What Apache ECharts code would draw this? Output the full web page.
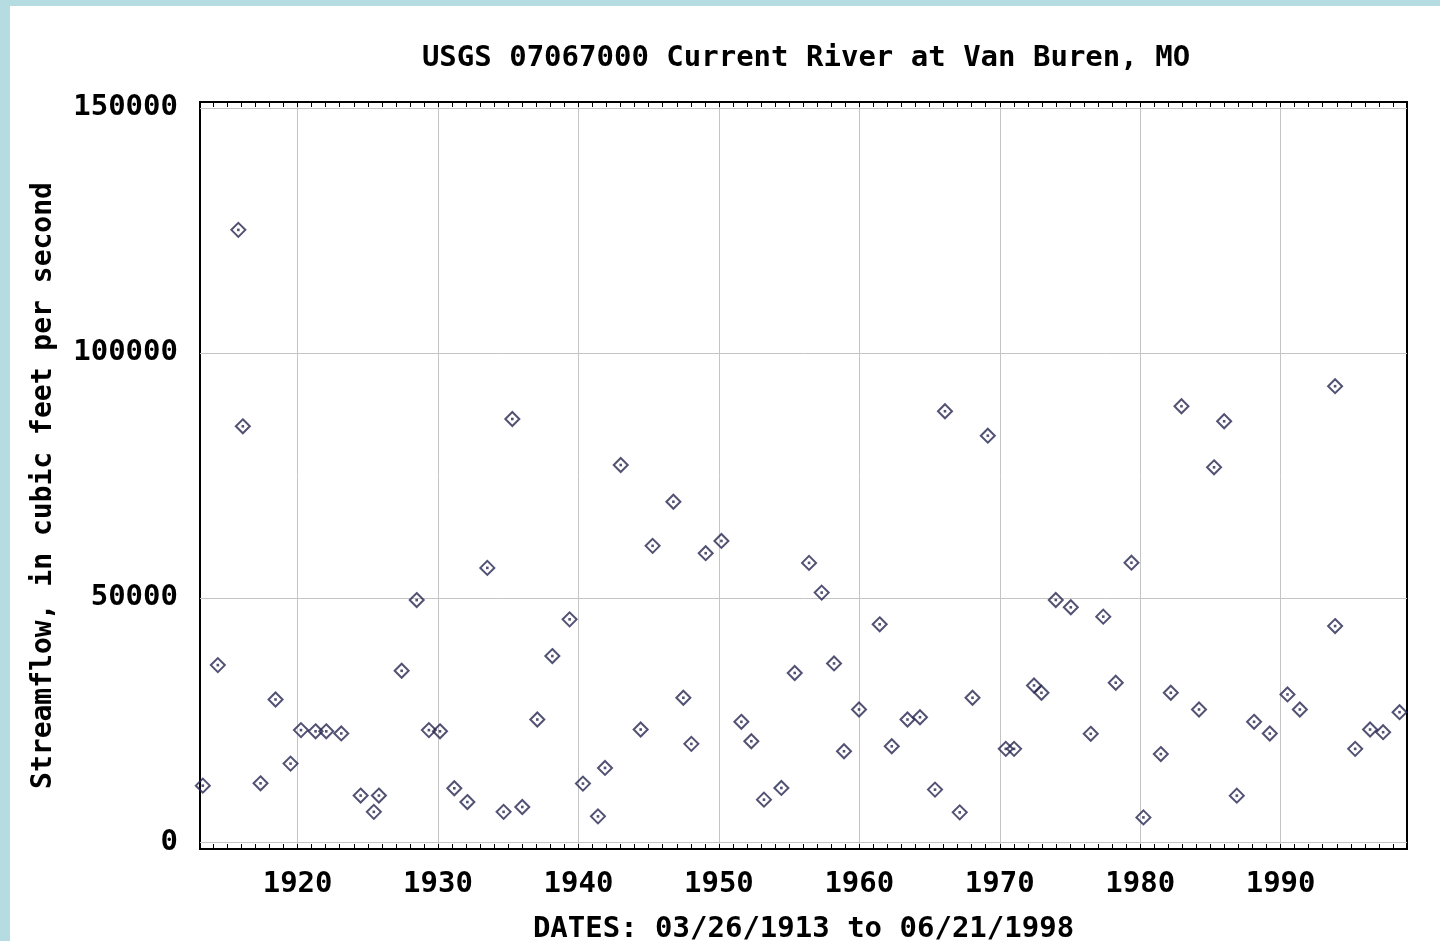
<!DOCTYPE html>
<html><head><meta charset="utf-8">
<script src="https://cdn.jsdelivr.net/npm/echarts@6/dist/echarts.min.js"></script>
<style>
html,body{margin:0;padding:0;background:#b4dce1;width:1440px;height:941px;overflow:hidden}
#panel{position:absolute;left:10px;top:6px;width:1430px;height:935px;background:#fff}
#chart{position:absolute;left:0;top:0;width:1440px;height:941px}
</style></head><body><div id="panel"></div><div id="chart"></div>
<script>
// Decimal year of each annual peak
const years = [1913.25,1914.32,1915.78,1916.10,1917.36,1918.43,1919.50,1920.24,1921.28,1922.04,
 1923.11,1924.49,1925.43,1925.79,1927.41,1928.48,1929.35,1930.14,1931.16,1932.09,
 1933.51,1934.67,1935.29,1936.00,1937.07,1938.14,1939.37,1940.32,1941.39,1941.89,
 1943.01,1944.43,1945.28,1946.76,1947.47,1948.04,1949.06,1950.18,1951.60,1952.31,
 1953.21,1954.45,1955.40,1956.42,1957.32,1958.20,1958.91,1959.98,1961.45,1962.31,
 1963.43,1964.32,1965.39,1966.10,1967.15,1968.06,1969.15,1970.43,1971.02,1972.44,
 1972.97,1973.99,1975.06,1976.48,1977.37,1978.26,1979.38,1980.23,1981.47,1982.18,
 1982.94,1984.19,1985.26,1985.98,1986.88,1988.11,1989.23,1990.49,1991.37,1993.88,
 1993.88,1995.31,1996.37,1997.30,1998.47];
// Peak streamflow, cubic feet per second
const flows = [11650,36260,125100,85000,12130,29240,16150,22990,22740,22740,
 22310,9630,6300,9630,35100,49530,22990,22740,11120,8300,
 56100,6300,86500,7300,25150,38100,45600,12070,5380,15270,
 77100,23110,60600,69600,29590,20180,59100,61600,24680,20720,
 8790,11180,34650,57120,51060,36600,18670,27200,44580,19690,
 25150,25620,10840,88080,6200,29590,83090,19160,19160,32100,
 30610,49550,48060,22230,46150,32660,57160,5170,18100,30610,
 89100,27200,76630,86030,9610,24680,22290,30270,27200,93190,
 44230,19160,23110,22560,26650];
const xTickLabels = [1920,1930,1940,1950,1960,1970,1980,1990];
const yTickLabels = [0,50000,100000,150000];
const minorYears = [];
for (let y = 1914; y <= 1998; y++) minorYears.push(y);

const points = years.map((y,i)=>[y, flows[i]]);
const FONT = 'DejaVu Sans Mono';
const INK = '#262650';
const FS = 29;

const chart = echarts.init(document.getElementById('chart'), null, {renderer:'canvas'});
const xRange = {min:1913.05, max:1999.0};
chart.setOption({
  backgroundColor:'transparent',
  animation:false,
  title:{
    text:'USGS 07067000 Current River at Van Buren, MO',
    left:801, top:39, textAlign:'center',
    textStyle:{fontFamily:FONT, fontWeight:'bold', fontSize:FS, color:'#000'}
  },
  grid:{left:200, top:102, width:1207, height:747, show:true, borderColor:'#000', borderWidth:2,
        backgroundColor:'transparent', outerBoundsMode:'none', containLabel:false},
  xAxis:[{
    type:'value', min:xRange.min, max:xRange.max, position:'bottom',
    name:'DATES: 03/26/1913 to 06/21/1998', nameLocation:'middle', nameGap:66,
    nameTextStyle:{fontFamily:FONT, fontWeight:'bold', fontSize:FS, color:'#000'},
    axisLine:{show:false},
    axisTick:{show:false, customValues:xTickLabels},
    axisLabel:{customValues:xTickLabels, margin:21, fontFamily:FONT, fontWeight:'bold', fontSize:FS, color:'#000', formatter:v=>String(v)},
    splitLine:{show:true, lineStyle:{color:'#c4c4c4', width:1}}
  },{
    type:'value', min:xRange.min, max:xRange.max, position:'top',
    axisLine:{show:false},
    axisTick:{show:true, inside:true, length:5, customValues:minorYears, lineStyle:{color:'#000', width:1}},
    axisLabel:{show:false, customValues:minorYears},
    splitLine:{show:false}
  },{
    type:'value', min:xRange.min, max:xRange.max, position:'bottom',
    axisLine:{show:false},
    axisTick:{show:true, inside:true, length:5, customValues:minorYears, lineStyle:{color:'#000', width:1}},
    axisLabel:{show:false, customValues:minorYears},
    splitLine:{show:false}
  }],
  yAxis:{
    type:'value', min:-1280, max:151200,
    name:'Streamflow, in cubic feet per second', nameLocation:'middle', nameGap:142, nameRotate:90,
    nameTextStyle:{fontFamily:FONT, fontWeight:'bold', fontSize:28, color:'#000', padding:[0,20,0,0]},
    axisLine:{show:false},
    axisTick:{show:false, customValues:yTickLabels},
    axisLabel:{customValues:yTickLabels, margin:22, fontFamily:FONT, fontWeight:'bold', fontSize:FS, color:'#000', formatter:v=>String(v)},
    splitLine:{show:true, lineStyle:{color:'#c4c4c4', width:1}}
  },
  series:[{
    type:'scatter', data:points, symbol:'diamond', symbolSize:[14,14],
    itemStyle:{color:'rgba(255,255,255,0)', borderColor:INK, borderWidth:2},
    z:3
  },{
    type:'scatter', data:points, symbol:'rect', symbolSize:2.6,
    itemStyle:{color:INK}, z:4
  }]
});
</script></body></html>
